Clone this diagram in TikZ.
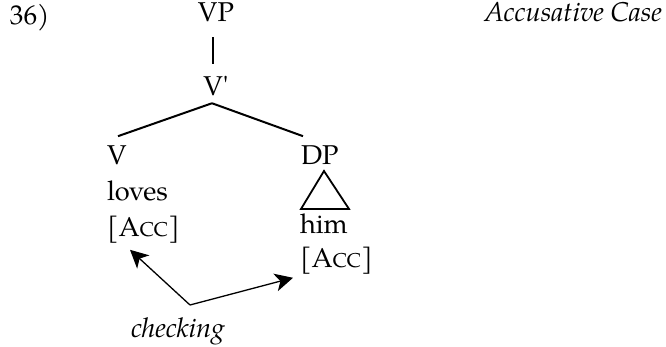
\documentclass[tikz,border=0pt]{standalone}
\usepackage{fontspec}
\setmainfont{texgyrepagella}[Extension=.otf, UprightFont=*-regular, ItalicFont=*-italic, BoldFont=*-bold, BoldItalicFont=*-bolditalic]
\usepackage{tikz}
\usetikzlibrary{positioning}
\usetikzlibrary{arrows.meta}

\newcommand{\acccase}{[A{\fontsize{10}{12}\selectfont CC}]}

\tikzset{
    word/.style={inner sep=0pt, outer sep=0pt, font=\fontsize{13.6}{16}\selectfont},
    branch/.style={line width=1pt},
    chkarrow/.style={line width=0.65pt, -{Stealth[length=9pt, width=9pt, inset=2.5pt]}}
}

\begin{document}
\begin{tikzpicture}[x=0.5pt, y=-0.5pt]
    \useasboundingbox (0,0) rectangle (666,347);

    \node [word, anchor=base west] (num) at (10,25) {36)};
    \node [word, anchor=base east] (title) at (662,22) {\itshape Accusative Case};

    \node [word, anchor=base] (vp) at (216,22) {VP};
    \node [word, anchor=base] (vbar) at (216,96) {V\textquotesingle};
    \node [word, anchor=base west] (v) at (107,165) {V};
    \node [word, anchor=base west] (dp) at (301,165) {DP};

    \node [word, below=18pt of v.base west, anchor=base west] (loves) {loves};
    \node [word, below=18pt of loves.base west, anchor=base west] (accl) {\acccase};
    \node [word, anchor=base west] (him) at (300,234) {him};
    \node [word, below=17pt of him.base west, anchor=base west] (accr) {\acccase};

    \coordinate (chk) at (190,305);
    \node [word, anchor=base] (checking) at (178,338) {\itshape checking};

    \draw [branch] ([xshift=-1.5pt, yshift=-7.5pt]vp.south) -- ([xshift=-1.5pt, yshift=6.5pt]vbar.north);
    \draw [branch] ([xshift=-2pt, yshift=-3.5pt]vbar.south) -- ([xshift=5.5pt, yshift=5pt]v.north west);
    \draw [branch] ([xshift=-2pt, yshift=-3.5pt]vbar.south) -- ([xshift=1pt, yshift=5pt]dp.north west);

    \draw [line width=0.9pt] (324,171) -- (301,209) -- (349,209) -- cycle;

    \draw [chkarrow] (chk) -- ([xshift=11.5pt, yshift=-3pt]accl.south west);
    \draw [chkarrow] (chk) -- ([xshift=-3.5pt, yshift=-1.5pt]accr.south west);
\end{tikzpicture}
\end{document}
